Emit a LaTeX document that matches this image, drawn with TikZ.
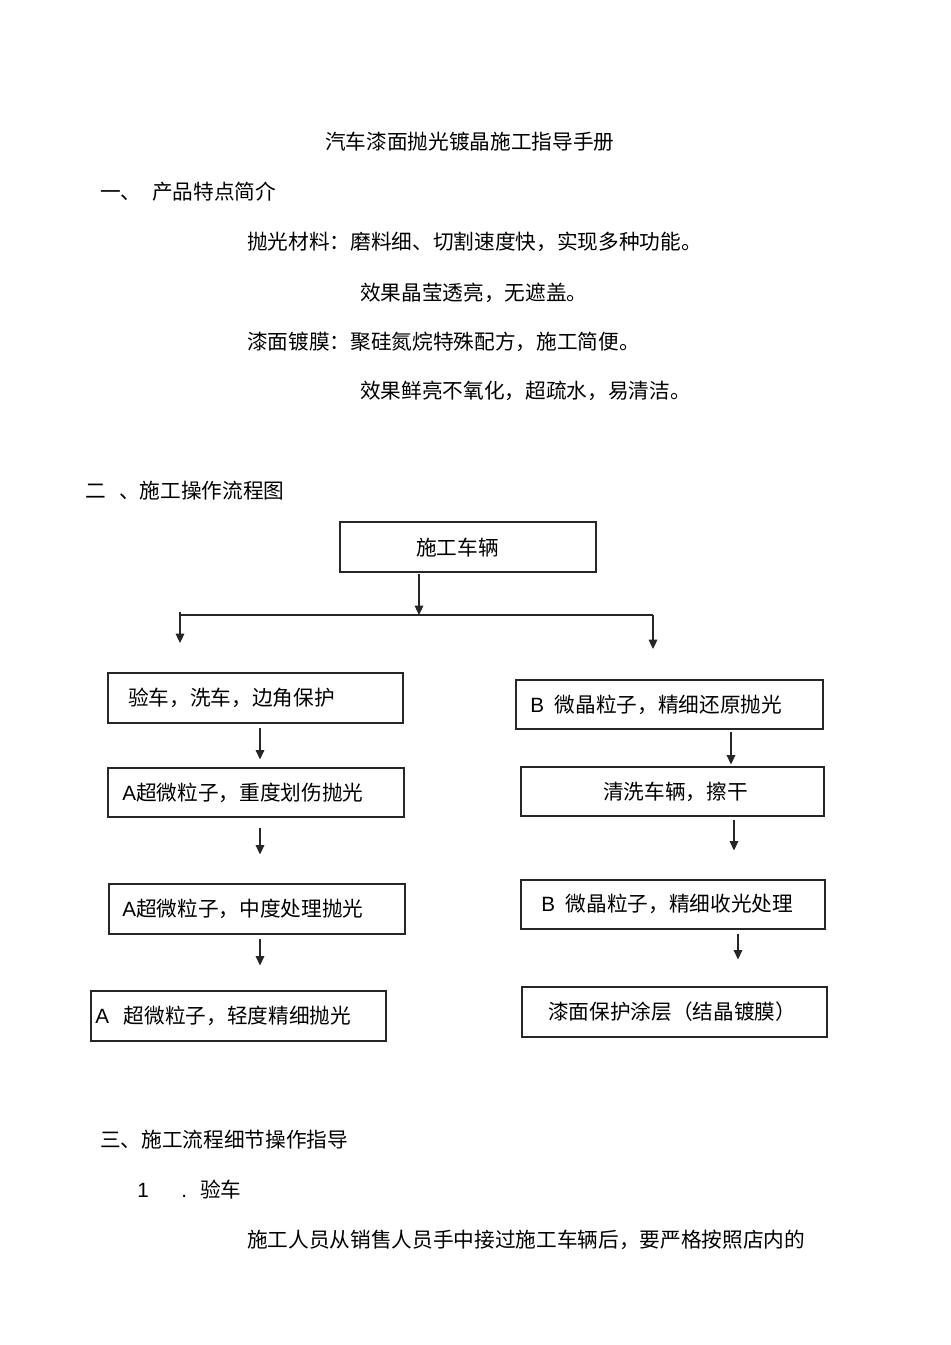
\documentclass[tikz,border=0pt]{standalone}
\usepackage{fontspec}
\setmainfont{Noto Sans CJK SC}
\newfontfamily\lat{Liberation Sans}
\usetikzlibrary{arrows.meta,calc}
\tikzset{
  txt/.style={anchor=west, inner sep=0pt, text height=13.6pt, text depth=1.9pt, font=\fontsize{15.5}{18}\selectfont},
  box/.style={draw=black!85, line width=0.85pt, inner sep=0pt},
  arr/.style={draw=black!85, line width=0.85pt, -{Triangle[length=7pt,width=6.5pt]}},
  ln/.style={draw=black!85, line width=0.85pt}
}
\begin{document}
\begin{tikzpicture}[x=0.75pt,y=-0.75pt]
\useasboundingbox[fill=white] (0,0) rectangle (950,1345);
% header text
\node[txt] (title) at (325,142) {汽车漆面抛光镀晶施工指导手册};
\node[txt] (s1a) at (100,192) {一、};
\node[txt] (s1b) at (152,192) {产品特点简介};
\node[txt] (p1) at (247,242) {抛光材料：磨料细、切割速度快，实现多种功能。};
\node[txt] (p2) at (360,293) {效果晶莹透亮，无遮盖。};
\node[txt] (p3) at (247,342) {漆面镀膜：聚硅氮烷特殊配方，施工简便。};
\node[txt] (p4) at (360,391) {效果鲜亮不氧化，超疏水，易清洁。};
\node[txt] (s2a) at (85,491) {二};
\node[txt] (s2b) at (119,491) {、施工操作流程图};
% flowchart boxes
\node[box, minimum width=256*0.75pt, minimum height=50*0.75pt] (top) at (468,547) {};
\node[txt] (ttop) at (416,548) {施工车辆};
\node[box, minimum width=295*0.75pt, minimum height=50*0.75pt] (L1) at (255.5,698) {};
\node[txt] (tL1) at (128,698) {验车，洗车，边角保护};
\node[box, minimum width=296*0.75pt, minimum height=49*0.75pt] (L2) at (256,792.5) {};
\node[txt] (tL2) at (122,793) {{\lat A}超微粒子，重度划伤抛光};
\node[box, minimum width=296*0.75pt, minimum height=50*0.75pt] (L3) at (257,909) {};
\node[txt] (tL3) at (122,909) {{\lat A}超微粒子，中度处理抛光};
\node[box, minimum width=295*0.75pt, minimum height=50*0.75pt] (L4) at (238.5,1016) {};
\node[txt] (tL4) at (95,1016) {{\lat A}\hspace{11pt}超微粒子，轻度精细抛光};
\node[box, minimum width=307*0.75pt, minimum height=49*0.75pt] (R1) at (669.5,704.5) {};
\node[txt] (tR1) at (530,705) {{\lat B}\hspace{8pt}微晶粒子，精细还原抛光};
\node[box, minimum width=303*0.75pt, minimum height=49*0.75pt] (R2) at (672.5,791.5) {};
\node[txt] (tR2) at (603,792) {清洗车辆，擦干};
\node[box, minimum width=304*0.75pt, minimum height=49*0.75pt] (R3) at (673,904.5) {};
\node[txt] (tR3) at (541,904) {{\lat B}\hspace{8pt}微晶粒子，精细收光处理};
\node[box, minimum width=305*0.75pt, minimum height=50*0.75pt] (R4) at (674.5,1012) {};
\node[txt] (tR4) at (548,1012) {漆面保护涂层（结晶镀膜）};
% junction
\coordinate (jm) at (419,615);
\coordinate (jl) at (180,615);
\coordinate (jr) at (653,615);
\coordinate (jls) at (180,612);
\coordinate (el) at (180,643);
\coordinate (er) at (653,649);
\draw[arr] ($(top.south)+(-49,1)$) -- (jm);
\draw[ln] (jl) -- (jr);
\draw[arr] (jls) -- (el);
\draw[arr] (jr) -- (er);
% left chain
\draw[arr] ($(L1.south)+(4.5,4)$) -- ($(L2.north)+(4,-8)$);
\draw[arr] ($(L2.south)+(4,10)$) -- ($(L3.north)+(3,-29)$);
\draw[arr] ($(L3.south)+(3,4)$) -- ($(L4.north)+(21.5,-25)$);
% right chain
\draw[arr] ($(R1.south)+(61.5,2)$) -- ($(R2.north)+(58.5,-2)$);
\draw[arr] ($(R2.south)+(61.5,3)$) -- ($(R3.north)+(61,-29)$);
\draw[arr] ($(R3.south)+(65,4)$) -- ($(R4.north)+(63.5,-27)$);
% bottom text
\node[txt] (s3) at (100,1140) {三、施工流程细节操作指导};
\node[txt] (n1) at (137,1190) {\lat 1};
\node[txt] (n1d) at (181,1190) {\lat .};
\node[txt] (n1t) at (200,1190) {验车};
\node[txt] (q1) at (247,1240) {施工人员从销售人员手中接过施工车辆后，要严格按照店内的};
\end{tikzpicture}
\end{document}
